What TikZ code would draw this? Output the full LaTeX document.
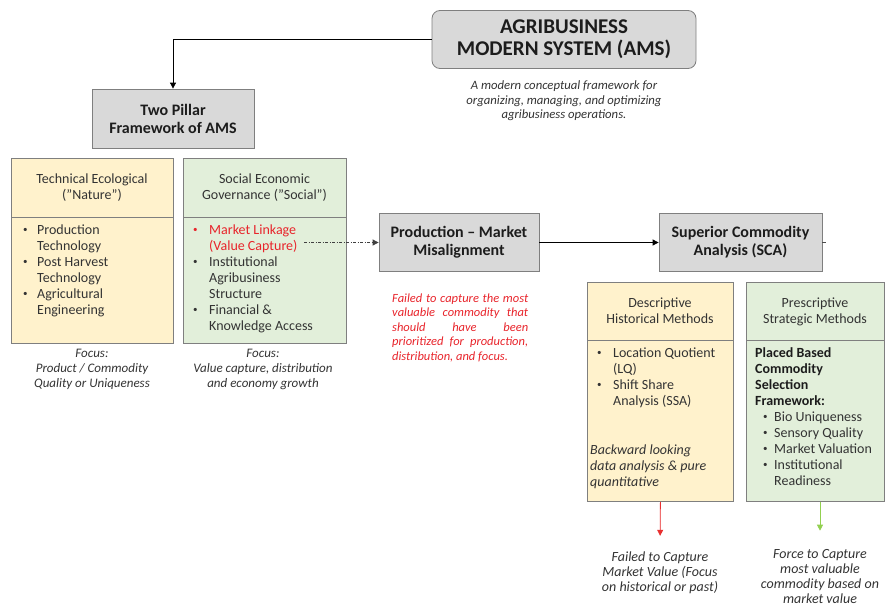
\documentclass[tikz,border=0pt]{standalone}
\usepackage{fontspec}
\setmainfont{Carlito}
\usetikzlibrary{arrows.meta}
\definecolor{gfill}{HTML}{D9D9D9}
\definecolor{bord}{HTML}{7F7F7F}
\definecolor{ofill}{HTML}{FFF2CC}
\definecolor{grfill}{HTML}{E2EFDA}
\definecolor{redtxt}{HTML}{E8242B}
\definecolor{txt}{HTML}{333333}
\definecolor{head}{HTML}{1C1C1C}
\definecolor{garrow}{HTML}{92D050}
\definecolor{rarrow}{HTML}{E83030}
\newcommand\smbul{\raisebox{1.2pt}{\fontsize{9}{9}\selectfont\textbullet}}
\newcommand\bitem[2]{\hangindent=#1\hangafter=1\noindent\makebox[#1][l]{\hspace{1pt}\smbul}#2\par}
\newcommand\bitemx[1]{\hangindent=19pt\hangafter=1\noindent\hspace*{8pt}\makebox[11pt][l]{\smbul}#1\par}
\begin{document}
\begin{tikzpicture}[x=1pt,y=-1pt,
  graybox/.style={draw=bord, fill=gfill, line width=0.8pt, text=head,
    font=\bfseries\fontsize{16}{18}\selectfont, align=center, inner sep=0pt},
  colbox/.style={draw=bord, line width=0.8pt, inner sep=0pt, anchor=north west},
  divline/.style={draw=bord, line width=0.8pt},
  hdr/.style={font=\fontsize{14}{16}\selectfont, text=txt, align=center, inner sep=0pt},
  body/.style={font=\fontsize{14}{16}\selectfont, text=txt, anchor=base west,
    inner sep=0pt, text width=#1, align=flush left},
  focus/.style={font=\itshape\fontsize{13}{15}\selectfont, text=txt, align=center, inner sep=0pt},
  bot/.style={font=\itshape\fontsize{14}{15}\selectfont, text=txt, align=center, inner sep=0pt},
  arr/.style={-{Triangle[length=6pt,width=6pt]}, line width=0.8pt},
  dashdot/.style={dash pattern=on 3pt off 1.5pt on 1pt off 1.5pt, draw=black!75}
]
\useasboundingbox (0,0) rectangle (886,605);

% top
\node[graybox, rounded corners=8pt, minimum width=264pt, minimum height=58pt,
  font=\bfseries\fontsize{21}{22}\selectfont] (ams) at (564,39.5) {AGRIBUSINESS\\MODERN SYSTEM (AMS)};
\node[font=\itshape\fontsize{12.7}{14.5}\selectfont, text=txt, align=center, inner sep=0pt] (amscap) at (564,101)
  {A modern conceptual framework for\\organizing, managing, and optimizing\\agribusiness operations.};
\node[graybox, minimum width=162pt, minimum height=59pt] (two) at (173,118.5) {Two Pillar\\Framework of AMS};
\draw[arr] (ams.west) -| (two.north);

% technical
\node[colbox, fill=ofill, minimum width=162pt, minimum height=185pt] (tech) at (11,158) {};
\draw[divline] (11,217) -- (173,217);
\node[hdr] (techh) at (92,187.5) {Technical Ecological\\("Nature")};
\node[body=148pt] (techb) at (22,234) {\bitem{15pt}{Production\newline Technology}\bitem{15pt}{Post Harvest\newline Technology}\bitem{15pt}{Agricultural\newline Engineering}};
\node[focus] (techf) at (92,369) {Focus:\\Product / Commodity\\Quality or Uniqueness};

% social
\node[colbox, fill=grfill, minimum width=163pt, minimum height=185pt] (soc) at (183,158) {};
\draw[divline] (183,217) -- (346,217);
\node[hdr] (soch) at (264.5,187.5) {Social Economic\\Governance ("Social")};
\node[body=150pt] (socb) at (192,234) {{\color{redtxt}\bitem{17pt}{Market Linkage\newline (Value Capture)}}\bitem{17pt}{Institutional\newline Agribusiness\newline Structure}\bitem{17pt}{Financial \&\newline Knowledge Access}};
\node[focus] (socf) at (263,369) {Focus:\\Value capture, distribution\\and economy growth};

% middle row
\node[graybox, minimum width=160pt, minimum height=58pt] (prod) at (459,242.5) {Production -- Market\\Misalignment};
\node[graybox, minimum width=163pt, minimum height=58pt] (sca) at (740.5,242.5) {Superior Commodity\\Analysis (SCA)};
\coordinate (vc) at (304,242.5);
\draw[arr, dashdot] (vc) -- (prod.west);
\draw[arr] (prod.east) -- (sca.west);
\coordinate (stub) at (826,242.5);
\draw[line width=0.8pt, draw=black!70] (sca.east) -- (stub);
\node[font=\itshape\fontsize{12.5}{14.5}\selectfont, text=redtxt, text width=136pt, align=justify,
  anchor=base west, inner sep=0pt] (fail) at (392,302)
  {Failed to capture the most\linebreak valuable commodity that\linebreak should have been\linebreak prioritized for production,\linebreak distribution, and focus.};

% descriptive
\node[colbox, fill=ofill, minimum width=146pt, minimum height=219pt] (desc) at (587,282) {};
\draw[divline] (587,340) -- (733,340);
\node[hdr] (desch) at (660,311) {Descriptive\\Historical Methods};
\node[body=135pt] (descb) at (596,357) {\bitem{17pt}{Location Quotient\newline (LQ)}\bitem{17pt}{Shift Share\newline Analysis (SSA)}};
\node[body=140pt, font=\itshape\fontsize{14}{16}\selectfont] (back) at (590,454) {Backward looking\\data analysis \& pure\\quantitative};

% prescriptive
\node[colbox, fill=grfill, minimum width=138pt, minimum height=219pt] (presc) at (746,282) {};
\draw[divline] (746,340) -- (884,340);
\node[hdr] (presch) at (815,311.5) {Prescriptive\\Strategic Methods};
\node[body=128pt] (prescb) at (755,357) {{\bfseries\color{head}Placed Based\newline Commodity\newline Selection\newline Framework:\par}\bitemx{Bio Uniqueness}\bitemx{Sensory Quality}\bitemx{Market Valuation}\bitemx{Institutional\newline Readiness}};

% bottom
\node[bot] (failt) at (660,573) {Failed to Capture\\Market Value (Focus\\on historical or past)};
\node[bot] (forcet) at (820,576.5) {Force to Capture\\most valuable\\commodity based on\\market value};
\draw[arr, draw=rarrow, fill=rarrow, shorten >=16pt] (desc.south) -- (failt.north);
\draw[arr, draw=garrow, fill=garrow, shorten >=18.5pt] (presc.south -| forcet.north) -- (forcet.north);
\end{tikzpicture}
\end{document}
